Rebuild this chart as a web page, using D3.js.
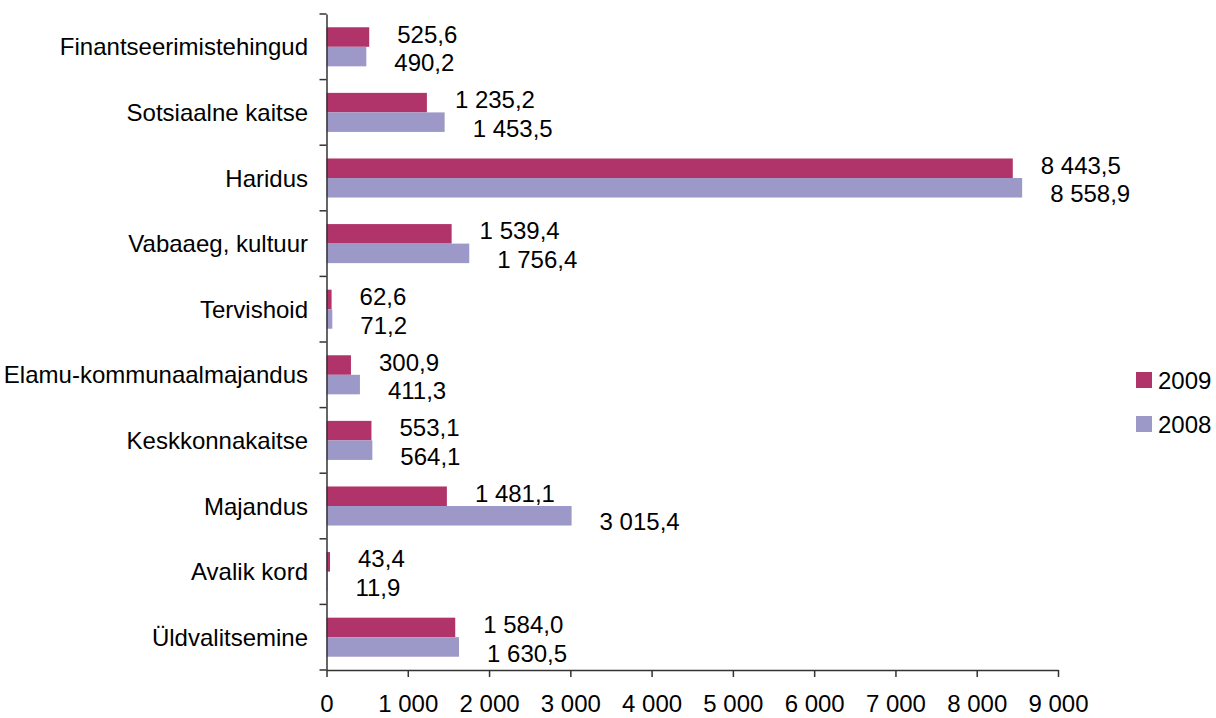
<!DOCTYPE html>
<html><head><meta charset="utf-8">
<script src="https://cdn.jsdelivr.net/npm/d3@7"></script>
<style>
body{margin:0;background:#fff;}
text{font-family:"Liberation Sans",Arial,sans-serif;fill:#000;}
</style></head>
<body>
<svg id="c" width="1216" height="718"></svg>
<script>
const categories = ["Finantseerimistehingud","Sotsiaalne kaitse","Haridus","Vabaaeg, kultuur","Tervishoid","Elamu-kommunaalmajandus","Keskkonnakaitse","Majandus","Avalik kord","Üldvalitsemine"];
const series = ["2009","2008"];
const values2009 = [525.6,1235.2,8443.5,1539.4,62.6,300.9,553.1,1481.1,43.4,1584.0];
const values2008 = [490.2,1453.5,8558.9,1756.4,71.2,411.3,564.1,3015.4,11.9,1630.5];
const xTicks = [0,1000,2000,3000,4000,5000,6000,7000,8000,9000];
const colors = {"2009":"#B0336A","2008":"#9C98C8"};

const loc = d3.formatLocale({decimal:",",thousands:"\u00a0",grouping:[3],currency:["",""]});
const fmtTick = loc.format(",d");
const fmtVal = loc.format(",.1f");

const svg = d3.select("#c");
const fontSize = 24;
const x = d3.scaleLinear().domain([0,9000]).range([326.5,1058]);
const y = d3.scaleBand().domain(categories).range([14,670]).padding(0);
const y1 = d3.scaleBand().domain(series).range([0,y.bandwidth()]).paddingInner(0).paddingOuter(0.68);

const data = categories.map((c,i)=>({cat:c, vals:[{s:"2009",v:values2009[i]},{s:"2008",v:values2008[i]}]}));

const g = svg.selectAll("g.cat").data(data).join("g").attr("class","cat")
  .attr("transform",d=>`translate(0,${y(d.cat)})`);
g.selectAll("rect").data(d=>d.vals).join("rect")
  .attr("x",x(0)).attr("y",d=>y1(d.s)).attr("height",y1.bandwidth())
  .attr("width",d=>x(d.v)-x(0)).attr("fill",d=>colors[d.s]);
g.selectAll("text.val").data(d=>d.vals).join("text").attr("class","val")
  .attr("x",d=>x(d.v)+28)
  .attr("y",d=>y1(d.s)+y1.bandwidth()/2 + (d.s==="2009"?-3:6))
  .attr("dy","0.36em")
  .attr("font-size",fontSize)
  .text(d=>fmtVal(d.v));

// y axis
const yAxis = d3.axisLeft(y).tickSize(0).tickFormat("");
const ya = svg.append("g").attr("transform",`translate(${x(0)},0)`).call(yAxis);
ya.select(".domain").attr("stroke","#333").attr("stroke-width",1.5);
// band boundary ticks
const bounds = categories.map(c=>y(c)).concat([y.range()[1]]);
svg.append("g").selectAll("line").data(bounds).join("line")
  .attr("x1",x(0)-7).attr("x2",x(0)).attr("y1",d=>d).attr("y2",d=>d)
  .attr("stroke","#333").attr("stroke-width",1.5);
svg.append("g").selectAll("text").data(categories).join("text")
  .attr("x",308).attr("y",d=>y(d)+y.bandwidth()/2).attr("dy","0.36em")
  .attr("text-anchor","end").attr("font-size",fontSize).text(d=>d);

// x axis
const xAxis = d3.axisBottom(x).tickValues(xTicks).tickSize(7).tickFormat(fmtTick).tickSizeOuter(0);
const xa = svg.append("g").attr("transform",`translate(0,670)`).call(xAxis);
xa.select(".domain").attr("stroke","#333").attr("stroke-width",1.5);
xa.selectAll(".tick line").attr("stroke","#333").attr("stroke-width",1.5);
xa.selectAll(".tick text").attr("font-size",fontSize).attr("font-family","Liberation Sans, Arial, sans-serif").attr("fill","#000").attr("y",25).attr("dy","0.71em");

// legend
const lg = svg.append("g").selectAll("g").data(series).join("g")
  .attr("transform",(d,i)=>`translate(1136,${372+i*44})`);
lg.append("rect").attr("width",16).attr("height",16).attr("fill",d=>colors[d]);
lg.append("text").attr("x",22).attr("y",8).attr("dy","0.36em").attr("font-size",fontSize).text(d=>d);
</script>
</body></html>
